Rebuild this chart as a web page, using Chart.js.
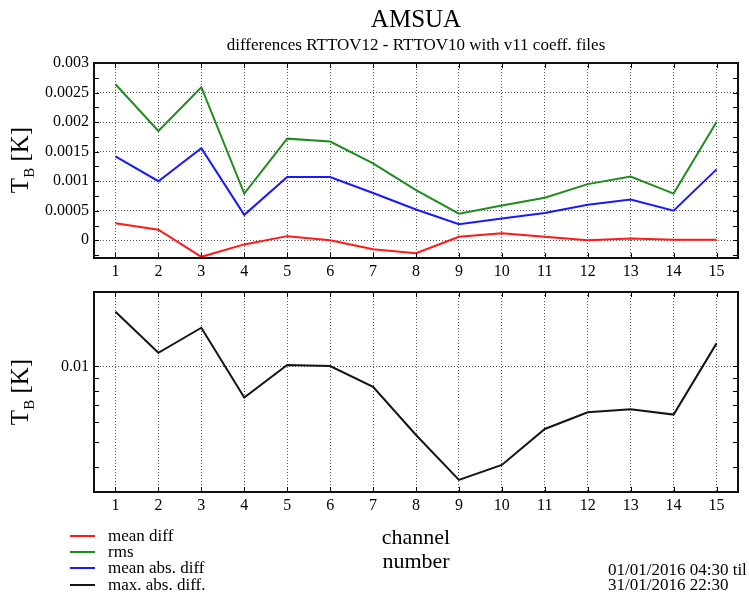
<!DOCTYPE html>
<html>
<head>
<meta charset="utf-8">
<title>AMSUA</title>
<script src="https://cdn.jsdelivr.net/npm/chart.js@4/dist/chart.umd.min.js"></script>
<style>
body { margin: 0; background: #fff; }
#wrap { position: relative; width: 749px; height: 597px; overflow: hidden; background: #fff;
        font-family: 'Liberation Serif', 'Times New Roman', serif; color: #000; }
canvas { position: absolute; left: 0; top: 0; }
.txt { position: absolute; white-space: nowrap; }
.ylab { position: absolute; white-space: nowrap; font-size: 25px; line-height: 25px;
        transform: translate(-50%, -50%) rotate(-90deg); }
.ylab span { font-size: 15px; position: relative; top: 6px; }
.swatch { position: absolute; height: 2px; width: 25px; left: 70px; }
</style>
</head>
<body>
<div id="wrap">
  <canvas id="topChart" width="749" height="597"></canvas>
  <canvas id="bottomChart" width="749" height="597"></canvas>
  <div class="txt" style="left:416px; top:6px; font-size:25px; line-height:25px; transform:translateX(-50%);">AMSUA</div>
  <div class="txt" style="left:416px; top:36px; font-size:17px; line-height:17px; transform:translateX(-50%);">differences RTTOV12 - RTTOV10 with v11 coeff. files</div>
  <div class="ylab" style="left:21px; top:160px;">T<span>B</span> [K]</div>
  <div class="ylab" style="left:21px; top:392px;">T<span>B</span> [K]</div>
  <div class="txt" style="left:416px; top:526px; font-size:22px; line-height:22px; transform:translateX(-50%);">channel</div>
  <div class="txt" style="left:416px; top:550px; font-size:22px; line-height:22px; transform:translateX(-50%);">number</div>
  <div class="txt" style="left:608px; top:561px; font-size:17px; line-height:17px;">01/01/2016 04:30 til</div>
  <div class="txt" style="left:608px; top:576px; font-size:17px; line-height:17px;">31/01/2016 22:30</div>
  <div id="legend"></div>
</div>
<script>
const channels = ['1', '2', '3', '4', '5', '6', '7', '8', '9', '10', '11', '12', '13', '14', '15'];

const meanDiff = [0.00029, 0.00018, -0.00028, -0.00007, 0.00007, 0.0, -0.00015, -0.00022,
                  0.00006, 0.00012, 0.00006, 0.0, 0.00003, 0.00001, 0.00001];
const rms = [0.00264, 0.00185, 0.00259, 0.00079, 0.00172, 0.00167, 0.0013, 0.00085,
             0.00045, 0.00059, 0.00072, 0.00095, 0.00108, 0.00079, 0.0020];
const meanAbsDiff = [0.00142, 0.0010, 0.00156, 0.00043, 0.00107, 0.00107, 0.0008, 0.00052,
                     0.00027, 0.00037, 0.00046, 0.0006, 0.00069, 0.0005, 0.0012];
const maxAbsDiff = [0.01644, 0.01132, 0.01422, 0.00752, 0.01012, 0.01003, 0.0083, 0.00535,
                    0.00355, 0.00407, 0.00565, 0.00658, 0.00676, 0.00644, 0.01233];

// tick values of the log axis in the lower panel (only 0.01 is labelled)
const logTicks = [0.004, 0.005, 0.006, 0.007, 0.008, 0.009, 0.01];

const seriesNames = ['mean diff', 'rms', 'mean abs. diff', 'max. abs. diff.'];
const seriesColors = ['rgb(255,25,25)', 'rgb(30,140,30)', 'rgb(25,25,255)', 'rgb(20,20,20)'];

// legend rows at the bottom left
const legend = document.getElementById('legend');
const legendY = [536, 552, 568, 585];
seriesNames.forEach((name, i) => {
    const sw = document.createElement('div');
    sw.className = 'swatch';
    sw.style.top = (legendY[i] - 1) + 'px';
    sw.style.background = seriesColors[i];
    legend.appendChild(sw);
    const lab = document.createElement('div');
    lab.className = 'txt';
    lab.style.cssText = 'left:108px; font-size:17px; line-height:17px; top:' + (legendY[i] + 5.5 - 14.2) + 'px;';
    lab.textContent = name;
    legend.appendChild(lab);
});

const serif = 'Liberation Serif';
const gridDots = 'rgba(0,0,0,0.65)';

// frame box plus the small inward ticks on all four sides
const frameTicks = {
    id: 'frameTicks',
    afterDraw(chart) {
        const { ctx, chartArea: a, scales } = chart;
        ctx.save();
        ctx.strokeStyle = '#000';
        ctx.lineWidth = 1;
        ctx.beginPath();
        scales.y.ticks.forEach(t => {
            if (t.value <= scales.y.min * 1.0001 || t.value >= scales.y.max * 0.9999) return;
            const y = Math.round(scales.y.getPixelForValue(t.value)) + 0.5;
            ctx.moveTo(a.left, y); ctx.lineTo(a.left + 5, y);
            ctx.moveTo(a.right, y); ctx.lineTo(a.right - 5, y);
        });
        scales.x.ticks.forEach((t, i) => {
            const x = Math.round(scales.x.getPixelForTick(i)) + 0.5;
            ctx.moveTo(x, a.top); ctx.lineTo(x, a.top + 5);
            ctx.moveTo(x, a.bottom); ctx.lineTo(x, a.bottom - 5);
        });
        ctx.stroke();
        ctx.lineWidth = 2;
        ctx.strokeStyle = '#111';
        ctx.strokeRect(a.left, a.top, a.right - a.left, a.bottom - a.top);
        ctx.restore();
    }
};

function xAxis() {
    return {
        type: 'category',
        offset: true,
        grid: { offset: false, color: gridDots, lineWidth: 1, drawTicks: false },
        border: { display: false, dash: [1, 2] },
        ticks: { color: '#000', font: { family: serif, size: 16 }, padding: 4, maxRotation: 0, autoSkip: false },
        afterFit(s) { s.height = 24; }
    };
}

function lineSet(label, data, color) {
    return { label: label, data: data, borderColor: color, backgroundColor: color,
             borderWidth: 2, pointRadius: 0, tension: 0, fill: false };
}

const isHalfMilli = v => Math.abs(Math.round(v / 0.0005) * 0.0005 - v) < 1e-9;

new Chart(document.getElementById('topChart'), {
    type: 'line',
    data: {
        labels: channels,
        datasets: [
            lineSet(seriesNames[0], meanDiff, seriesColors[0]),
            lineSet(seriesNames[1], rms, seriesColors[1]),
            lineSet(seriesNames[2], meanAbsDiff, seriesColors[2])
        ]
    },
    options: {
        responsive: false,
        animation: false,
        layout: { padding: { left: 0, top: 63, right: 11, bottom: 315 } },
        plugins: { legend: { display: false }, tooltip: { enabled: false } },
        scales: {
            x: xAxis(),
            y: {
                min: -0.0003,
                max: 0.003,
                grid: {
                    color: c => (isHalfMilli(c.tick.value) ? gridDots : 'rgba(0,0,0,0)'),
                    lineWidth: 1,
                    drawTicks: false
                },
                border: { display: false, dash: [1, 2] },
                ticks: {
                    stepSize: 0.00025,
                    includeBounds: false,
                    autoSkip: false,
                    color: '#000',
                    padding: 5,
                    font: { family: serif, size: 16 },
                    callback: v => (isHalfMilli(v) ? String(parseFloat(v.toFixed(5))) : '')
                },
                afterFit(s) { s.width = 94; }
            }
        }
    },
    plugins: [frameTicks]
});

new Chart(document.getElementById('bottomChart'), {
    type: 'line',
    data: {
        labels: channels,
        datasets: [lineSet(seriesNames[3], maxAbsDiff, seriesColors[3])]
    },
    options: {
        responsive: false,
        animation: false,
        layout: { padding: { left: 0, top: 292, right: 11, bottom: 81 } },
        plugins: { legend: { display: false }, tooltip: { enabled: false } },
        scales: {
            x: xAxis(),
            y: {
                type: 'logarithmic',
                min: 0.00318,
                max: 0.0197,
                afterBuildTicks(scale) {
                    scale.ticks = logTicks.map(v => ({ value: v }));
                },
                grid: {
                    color: c => (Math.abs(c.tick.value - 0.01) < 1e-9 ? gridDots : 'rgba(0,0,0,0)'),
                    lineWidth: 1,
                    drawTicks: false
                },
                border: { display: false, dash: [1, 2] },
                ticks: {
                    autoSkip: false,
                    color: '#000',
                    padding: 5,
                    font: { family: serif, size: 16 },
                    callback: v => (Math.abs(v - 0.01) < 1e-9 ? '0.01' : '')
                },
                afterFit(s) { s.width = 94; }
            }
        }
    },
    plugins: [frameTicks]
});
</script>
</body>
</html>
